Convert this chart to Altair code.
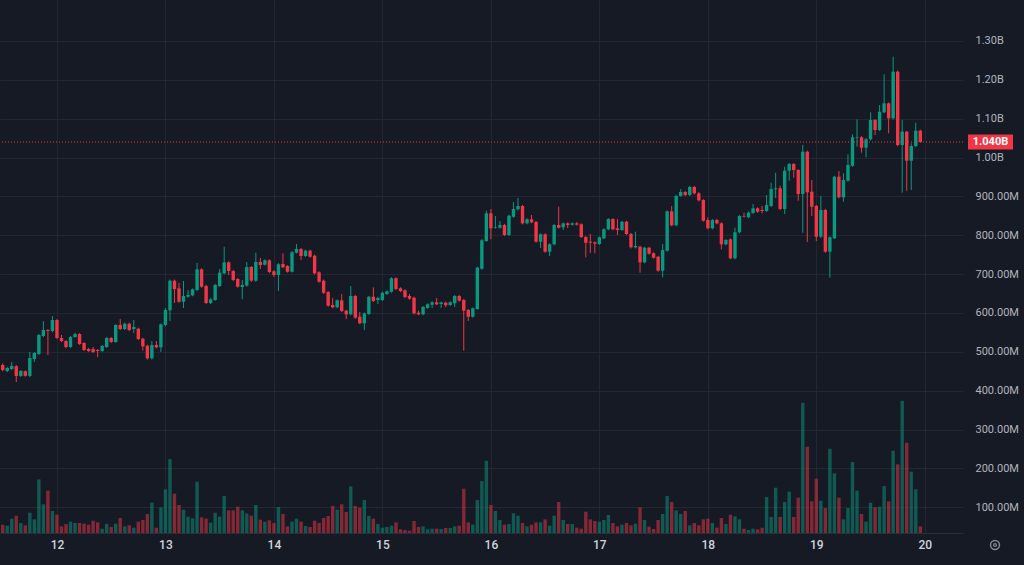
import altair as alt
import pandas as pd

# Hourly candles: index 0 = 11th 12:00, last = 19th 23:00 (values in millions)
opens = [
    466, 450.5, 455.7, 463, 438, 450, 438, 481.4, 494.3, 540.6,
    556, 553.5, 581.8, 535.5, 527.8, 512.3, 538.1, 545.8, 522.6, 507.2,
    507, 504.6, 502, 512.3, 535.5, 525.2, 569, 558.7, 572.3, 558.7,
    559.4, 533.7, 515.7, 483.2, 517.4, 511.5, 569, 606.8, 683, 663.4,
    628.9, 641.8, 645.4, 659, 712.3, 669.3, 625.6, 633.3, 669.3, 702,
    730.3, 708, 687.4, 666.8, 670.1, 718.3, 683, 731.1, 724.1, 735.5,
    707.2, 697.7, 726, 720.8, 706.1, 755.1, 764.6, 746.6, 760.2, 747.3,
    704.6, 683, 653.9, 620.4, 614.5, 632.5, 605.8, 596.5, 643.6, 590.3,
    573.3, 597.3, 641.8, 633.3, 633.3, 648.7, 654.6, 689.2, 663.4, 658.3,
    643.6, 639.2, 600.6, 596.5, 613.1, 621.2, 627.4, 623, 626.4, 620.4,
    624.8, 643.6, 633.3, 607.6, 590.3, 610.2, 713.9, 785.2, 856.5, 819.4,
    819.4, 826.4, 800.6, 847.7, 866.8, 875.3, 830.7, 841, 834.1, 783.4,
    802.4, 757.6, 776.7, 826.4, 820.5, 830.7, 827.1, 830.7, 828.2, 795.5,
    783.4, 781.8, 777.4, 792.1, 815.3, 841.8, 817.9, 813.5, 834.9, 803.2,
    768.9, 770.5, 730.3, 767.9, 753.5, 744.8, 708.7, 760.2, 861.6, 825.6,
    901, 911.3, 903.6, 924.2, 907.9, 890.7, 839.2, 817.9, 839.2, 830.7,
    776.7, 789.5, 740.6, 807.6, 849.5, 846.2, 857.3, 869.3, 865, 862.4,
    875.3, 918.3, 920.8, 867.5, 966.1, 983.4, 967.9, 906.1, 1015, 912.1,
    875.3, 796.2, 865, 757.6, 792.1, 950.7, 897.7, 940.4, 979, 1051.6,
    1052.1, 1025.3, 1047, 1096.6, 1070.9, 1116.4, 1139.6, 1101, 1221, 1032.3,
    1066.5, 991.9, 1029.7, 1069.1,
]
closes = [
    453, 458.3, 463.4, 437.7, 450.5, 438, 484, 496.9, 543.2, 556.1,
    553.5, 581.8, 535.5, 527.8, 512.3, 538.1, 545.8, 520, 504.6, 502,
    499.5, 502, 514.9, 535.5, 525.2, 569, 558.7, 572.3, 556.1, 563.8,
    532.9, 514.1, 483.2, 517.4, 511.5, 570.8, 607.6, 683, 661.6, 628.9,
    643.6, 646.2, 660.8, 712.3, 667.5, 625.6, 635.1, 671.9, 703.6, 730.3,
    708, 684.8, 667.5, 671.9, 718.3, 683, 731.1, 723.4, 735.5, 705.4,
    697.7, 725.2, 717.5, 706.1, 756.1, 764.6, 746.6, 760.2, 744.8, 702,
    680.4, 652.1, 618.6, 614.5, 632.5, 605, 596.5, 643.6, 587.7, 573.3,
    599, 641.8, 630.7, 638.4, 652.1, 655.7, 689.2, 661.6, 656.4, 641,
    636.6, 599, 596.5, 615.3, 622.2, 627.4, 622.2, 626.9, 619.7, 627.4,
    643.6, 631.5, 605.8, 590.3, 612, 716.4, 787, 856.5, 817.9, 821.2,
    826.4, 800.6, 850.3, 867.5, 875.3, 830.7, 841, 833.3, 783.4, 802.4,
    757.6, 776.7, 826.4, 819.4, 830.7, 826.4, 830.7, 827.1, 795.5, 780.8,
    780.8, 778.2, 794.7, 815.3, 841.8, 815.3, 813.5, 834.9, 803.2, 768.9,
    772.3, 730.3, 767.9, 752.5, 742.2, 708.7, 762, 861.6, 825.6, 901,
    911.3, 903.6, 924.2, 907.9, 889.9, 837.4, 817.9, 839.2, 830.7, 776.7,
    787.7, 740.6, 807.6, 849.5, 848.2, 858, 869.3, 860.6, 862.4, 877.8,
    919, 920.8, 867.5, 966.1, 983.4, 967.9, 906.1, 1015, 910.5, 873.5,
    796.2, 865, 757.6, 794.7, 950.7, 897.7, 942.2, 980.8, 1052.1, 1052.9,
    1025.3, 1047, 1096.6, 1070.9, 1118, 1139.6, 1101, 1221, 1032.3, 1066.5,
    991.9, 1029.7, 1069.1, 1040,
]
highs = [
    470, 461, 473.7, 466, 453, 452, 499.5, 499, 546, 579.3,
    558, 592.1, 584, 543.2, 530, 541, 549, 548, 525, 510,
    512.3, 507, 517, 538, 538, 571, 584.4, 575, 575, 581.8,
    562, 536, 518, 527.8, 527.8, 573, 612.7, 686, 686, 677.1,
    682.2, 659, 663, 728.5, 715, 672, 638, 675, 713.1, 770.5,
    733, 711, 690, 684.8, 731.1, 721, 755.1, 741.4, 738, 738,
    710, 728, 753.5, 723, 759, 777.4, 767, 763, 763, 750,
    707, 686, 656, 638.4, 635, 648.7, 608, 669.3, 646, 602.4,
    601, 644, 666, 641.8, 655, 658, 692, 692, 666, 661,
    648.7, 642, 605.8, 618, 625, 630, 638.4, 629, 629, 630,
    646, 646, 636, 610, 614, 719, 790, 863.2, 867.5, 849.5,
    836.6, 829, 853, 885.6, 895.9, 878, 844, 852.1, 837, 805,
    805, 779, 829, 873.5, 833, 833, 833, 834.1, 831, 798,
    803.2, 784, 797, 818, 844, 844, 841.8, 837, 837, 806,
    809.1, 773, 770, 770, 756, 747, 777.4, 864, 875.3, 904,
    919, 914, 927, 927, 911, 893, 846.2, 842, 842, 833,
    790, 792, 819.4, 852, 858, 861, 880.4, 872, 875.3, 903.6,
    935.2, 961, 927.5, 976.4, 986, 986, 970, 1032.3, 1018, 942.2,
    878, 901, 868, 797, 953, 965.4, 959.4, 1008.3, 1059.8, 1098.4,
    1055, 1050, 1116.4, 1099, 1135.2, 1214.3, 1142, 1259.6, 1224, 1096.6,
    1069, 1036.6, 1089.7, 1072,
]
lows = [
    450, 448, 453, 422.2, 435, 436, 435, 473.7, 492, 538,
    491.7, 550, 533, 525, 509, 510, 536, 518, 502, 500,
    496.9, 486.6, 500, 510, 523, 523, 556, 556, 553, 548.4,
    530, 502.8, 480, 480, 509, 499.5, 566, 579.3, 625.6, 626,
    612.7, 639, 643, 656, 665, 623, 623, 631, 667, 700,
    697.7, 682, 665, 635.1, 668, 680, 680, 713.1, 722, 703,
    692.5, 656.4, 715, 704, 704, 753, 736.3, 744, 742, 699,
    678, 649, 616, 612, 612, 602, 584.4, 594, 585, 571,
    556.1, 595, 628, 623, 631, 646, 652, 659, 654, 638,
    634, 596, 594, 594, 611, 612.7, 620, 612.7, 615.3, 618,
    615.3, 629, 502.8, 579.3, 588, 608, 711, 783, 789.5, 817,
    817, 798, 798, 845, 864, 828, 828, 831, 781, 767.2,
    755, 746.6, 774, 817, 813.5, 818.6, 825, 825, 793, 743.2,
    754.3, 753.5, 775, 790, 813, 813, 800.6, 811, 801, 766,
    766, 703.6, 728, 750, 740, 706, 691.7, 758, 823, 823,
    899, 901, 901, 905, 887, 835, 815, 815, 828, 763.8,
    774, 738, 738, 805, 846, 844, 855, 858, 856.5, 860,
    873, 895.9, 865, 854.7, 940.4, 948.1, 888.9, 806.5, 782.6, 849.5,
    785.2, 793, 755, 690.7, 790, 895, 886.3, 938, 976, 1027.9,
    1012.5, 1000.6, 1044, 1058, 1068, 1114, 1062.4, 1098, 1029, 909.5,
    914.6, 916.4, 1027, 1038,
]
volumes = [
    25, 22, 43, 52, 30, 23, 61, 41, 161, 86,
    127, 66, 55, 20, 27, 34, 30, 30, 28, 25,
    37, 32, 13, 27, 18, 28, 45, 20, 23, 16,
    34, 39, 57, 91, 16, 77, 131, 222, 118, 84,
    70, 49, 44, 154, 47, 43, 31, 61, 49, 111,
    68, 68, 79, 68, 59, 52, 84, 40, 34, 38,
    30, 78, 57, 20, 34, 43, 34, 21, 18, 37,
    30, 45, 51, 81, 70, 86, 63, 140, 81, 76,
    99, 51, 43, 27, 16, 18, 22, 32, 11, 9,
    7, 36, 18, 20, 11, 13, 13, 12, 15, 15,
    20, 22, 133, 32, 25, 99, 156, 217, 84, 66,
    39, 25, 27, 59, 52, 30, 20, 25, 32, 32,
    41, 22, 52, 93, 39, 27, 27, 16, 13, 64,
    41, 36, 34, 39, 54, 30, 20, 25, 30, 23,
    28, 77, 39, 19, 12, 39, 57, 111, 93, 68,
    57, 66, 23, 30, 23, 41, 43, 30, 16, 45,
    27, 55, 50, 41, 13, 9, 13, 11, 16, 108,
    48, 136, 48, 93, 124, 48, 106, 391, 259, 95,
    163, 97, 75, 253, 179, 106, 41, 75, 213, 127,
    57, 34, 91, 77, 79, 141, 95, 247, 206, 397,
    271, 184, 131, 20,
]
price_ticks = [100, 200, 300, 400, 500, 600, 700, 800, 900, 1000, 1100, 1200, 1300]
day_ticks = [12, 36, 60, 84, 108, 132, 156, 180, 204]  # midnight of days 12..20
last_label = ["1.040B"]

n = len(opens)
df = pd.DataFrame({
    "hour": list(range(n)),
    "open": opens, "high": highs, "low": lows, "close": closes, "volume": volumes,
})
last_df = pd.DataFrame({"price": [closes[-1]], "label": last_label})

BG = "#161a25"
UP = "#089981"
DOWN = "#f23645"
GRID = "#232733"
TEXT = "#b2b5be"
FONT = "Roboto"

W, H = 963, 533
x_scale = alt.Scale(domain=[-0.6, 212.45], nice=False, zero=False, padding=0)
y_scale = alt.Scale(domain=[33.6, 1405.5], nice=False, zero=False, padding=0)
v_scale = alt.Scale(domain=[0, 1600], nice=False, zero=True, padding=0)

x_axis = alt.Axis(
    values=day_ticks, labelExpr="'' + (11 + (datum.value + 12) / 24)",
    title=None, grid=True, gridColor=GRID, domain=True, domainColor="#2a2e39",
    ticks=False, tickSize=0, labelPadding=6, labelColor="#d1d4dc", labelFontSize=12,
    labelFont=FONT, labelFontWeight=500, labelFlush=False,
)
y_axis = alt.Axis(
    orient="right", values=price_ticks,
    labelExpr="datum.value >= 1000 ? format(datum.value / 1000, '.2f') + 'B' : format(datum.value, '.2f') + 'M'",
    title=None, grid=True, gridColor=GRID, domain=False, ticks=False, tickSize=0,
    labelPadding=12, labelColor=TEXT, labelFontSize=11, labelFont=FONT,
    labelAlign="left", labelFlush=False,
)

is_up = "datum.close >= datum.open"
base = alt.Chart(df)
X = alt.X("hour:Q", scale=x_scale, axis=x_axis)

volume = base.mark_bar(width=3.4, opacity=0.5).encode(
    x=X,
    y=alt.Y("volume:Q", scale=v_scale, axis=None),
    color=alt.condition(is_up, alt.value(UP), alt.value(DOWN)),
)

wicks = base.mark_rule(strokeWidth=1).encode(
    x=X,
    y=alt.Y("low:Q", scale=y_scale, axis=y_axis),
    y2="high:Q",
    color=alt.condition(is_up, alt.value(UP), alt.value(DOWN)),
)
bodies = base.mark_bar(width=3.4).encode(
    x=X,
    y=alt.Y("open:Q", scale=y_scale, axis=y_axis),
    y2="close:Q",
    color=alt.condition(is_up, alt.value(UP), alt.value(DOWN)),
)
last = alt.Chart(last_df)
price_line = last.mark_rule(color=DOWN, strokeDash=[1, 2], strokeWidth=1).encode(
    y=alt.Y("price:Q", scale=y_scale, axis=y_axis),
)
price_box = last.mark_tick(orient="horizontal", color=DOWN, size=45, thickness=15, opacity=1).encode(
    x=alt.value(990.5),
    y=alt.Y("price:Q", scale=y_scale, axis=y_axis),
)
price_text = last.mark_text(color="white", fontSize=11, fontWeight="bold", font=FONT,
                            align="center", baseline="middle").encode(
    x=alt.value(990.5),
    y=alt.Y("price:Q", scale=y_scale, axis=y_axis),
    text="label:N",
)
gear_outer = last.mark_point(shape="circle", size=80, filled=False, color=TEXT, strokeWidth=1.5).encode(
    x=alt.value(995), y=alt.value(545)
)
gear_inner = last.mark_point(shape="circle", size=8, filled=False, color=TEXT, strokeWidth=1.2).encode(
    x=alt.value(995), y=alt.value(545)
)

price = alt.layer(wicks, bodies, price_line, price_box, price_text, gear_outer, gear_inner)

chart = alt.layer(volume, price).resolve_scale(y="independent").properties(
    width=W, height=H,
    autosize=alt.AutoSizeParams(type="none"),
    padding={"left": 0, "top": 0, "right": 1024 - W, "bottom": 565 - H},
    background=BG,
).configure_view(stroke=None, fill=BG)

chart.save("out.html", embed_options={"renderer": "svg", "actions": False})
